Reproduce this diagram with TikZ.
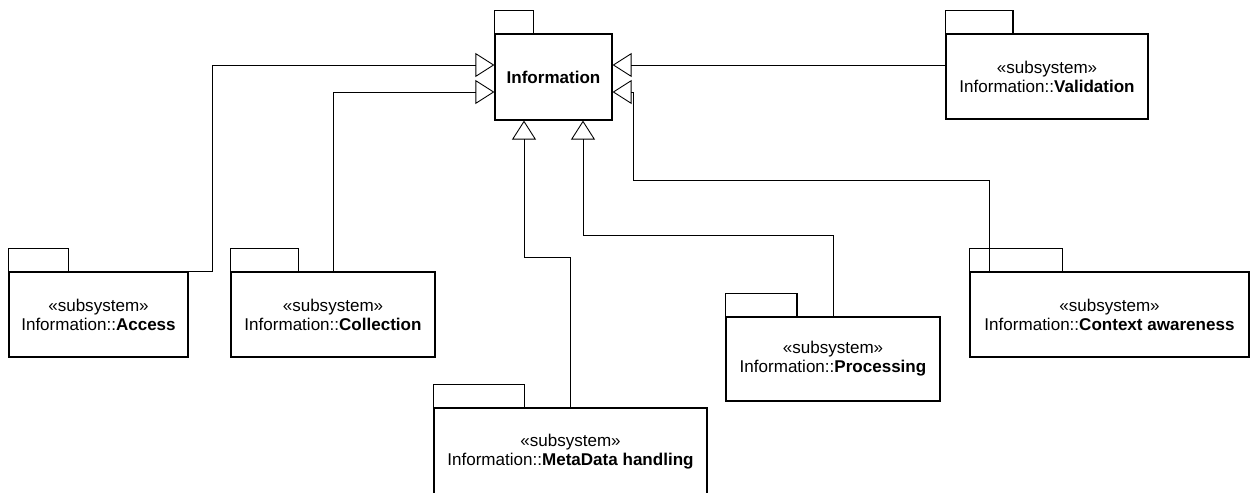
\documentclass[tikz,border=0pt]{standalone}
\usepackage{fontspec}
\setmainfont{Liberation Sans}
\usetikzlibrary{arrows.meta,positioning,calc}

\begin{document}
\begin{tikzpicture}[
  x=0.02cm,y=-0.02cm,
  pkg/.style={draw, line width=0.7pt, align=center, minimum height=1.7cm, font=\fontsize{9.7}{10.8}\selectfont, inner sep=0pt},
  gen/.style={-{Triangle[open, length=0.38cm, width=0.48cm]}, line width=0.5pt}
]
\useasboundingbox (0,0) rectangle (1250,493);
\node[pkg, minimum width=2.34cm, minimum height=1.72cm] (info) at (553.5,77) {\textbf{Information}};
\node[pkg, minimum width=4.04cm] (val) at (1047,76.5) {«subsystem»\\Information::\textbf{Validation}};
\node[pkg, minimum width=3.58cm] (acc) at (98.5,314.5) {«subsystem»\\Information::\textbf{Access}};
\node[pkg, minimum width=4.08cm] (col) at (333,314.5) {«subsystem»\\Information::\textbf{Collection}};
\node[pkg, minimum width=5.46cm, minimum height=1.76cm] (meta) at (570.5,452) {«subsystem»\\Information::\textbf{MetaData handling}};
\node[pkg, minimum width=4.28cm, minimum height=1.68cm] (proc) at (833,359) {«subsystem»\\Information::\textbf{Processing}};
\node[pkg, minimum width=5.58cm] (ctx) at (1109.5,314.5) {«subsystem»\\Information::\textbf{Context awareness}};
% tabs on top of every package
\foreach \p in {info,val,acc,col,meta,proc,ctx}
  \draw[line width=0.7pt] (\p.north west) rectangle ($(\p.north west)!0.333!(\p.north east)+(0,-23)$);
% generalizations
\draw[gen] (acc.north east) -- ++(24,0) |- ($(info.west)+(0,-12)$);
\draw[gen] (col.north) |- ($(info.west)+(0,15)$);
\draw[gen] (meta.north) -- ++(0,-150) -| ($(info.south)+(-29.5,0)$);
\draw[gen] (proc.north) -- ++(0,-81) -| ($(info.south)+(29.5,0)$);
\draw[gen] ($(val.west)+(0,-11.5)$) -- ($(info.east)+(0,-12)$);
\draw[gen] ($(ctx.north west)+(20,0)$) |- ++(-356,-91) |- ($(info.east)+(0,15)$);
\end{tikzpicture}
\end{document}
